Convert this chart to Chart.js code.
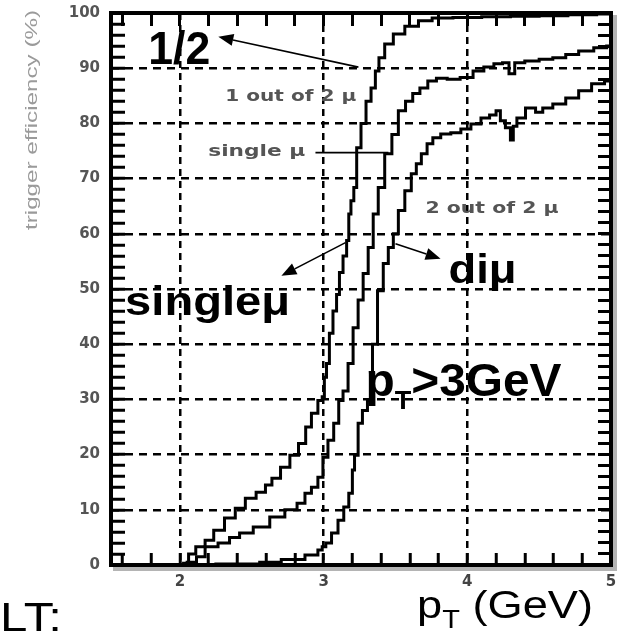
<!DOCTYPE html>
<html>
<head>
<meta charset="utf-8">
<script src="https://cdn.jsdelivr.net/npm/chart.js@4"></script>
<style>
html, body { margin: 0; padding: 0; background: #fff; }
</style>
</head>
<body>
<canvas id="chart" width="620" height="635"></canvas>
<script>
// p_T values (GeV) and trigger efficiency (%)
const oneOfTwoX = [2.0, 2.05, 2.07, 2.15, 2.2, 2.27, 2.35, 2.42, 2.49, 2.57, 2.62, 2.66, 2.74, 2.79, 2.86, 2.89, 2.94, 2.98, 3.0, 3.01, 3.03, 3.05, 3.08, 3.1, 3.12, 3.15, 3.17, 3.18, 3.2, 3.22, 3.24, 3.28, 3.31, 3.35, 3.37, 3.4, 3.45, 3.52, 3.61, 3.71, 3.8, 4.0, 4.2, 4.4, 4.6, 4.8, 5.0];
const oneOfTwoY = [0, 0.3, 2, 3.3, 4.5, 6.3, 8.5, 10.3, 12.1, 13.2, 14.5, 15.7, 17.7, 19.9, 22, 25, 27.5, 29.8, 30.5, 34, 36.5, 42, 46, 49, 53, 56, 58.8, 63.6, 66, 68.4, 75.6, 80, 84, 86.4, 89.5, 91.9, 94.4, 96.2, 97.6, 98.6, 99.1, 99.2, 99.3, 99.4, 99.5, 99.7, 99.8];

const singleX = [2.0, 2.1, 2.13, 2.22, 2.31, 2.38, 2.45, 2.57, 2.68, 2.78, 2.85, 2.89, 2.94, 2.98, 3.01, 3.05, 3.09, 3.12, 3.15, 3.19, 3.22, 3.26, 3.29, 3.33, 3.36, 3.4, 3.45, 3.5, 3.54, 3.6, 3.64, 3.7, 3.75, 3.82, 3.9, 4.0, 4.08, 4.15, 4.22, 4.27, 4.31, 4.35, 4.45, 4.55, 4.64, 4.73, 4.82, 4.94, 5.0];
const singleY = [0, 0.5, 1.5, 3.3, 4, 5, 5.8, 6.9, 8.7, 10, 11.2, 13, 14.1, 15.9, 19.5, 22.6, 25.7, 29.8, 31.5, 36.5, 43, 48, 52.8, 57.5, 63.6, 68.4, 74.5, 78, 82.3, 84, 85.4, 86.4, 87.7, 88.2, 88, 88.3, 89.5, 90.2, 90.8, 91, 89, 91, 91.3, 91.6, 91.9, 92.5, 93.1, 93.7, 94];

const twoOfTwoX = [2.0, 2.5, 2.61, 2.8, 2.94, 2.98, 3.0, 3.03, 3.08, 3.12, 3.16, 3.19, 3.21, 3.22, 3.26, 3.28, 3.33, 3.35, 3.4, 3.43, 3.47, 3.5, 3.54, 3.59, 3.63, 3.66, 3.7, 3.74, 3.78, 3.85, 3.92, 3.99, 4.06, 4.13, 4.18, 4.22, 4.24, 4.29, 4.31, 4.33, 4.36, 4.45, 4.5, 4.55, 4.64, 4.73, 4.82, 4.91, 5.0];
const twoOfTwoY = [0, 0.2, 0.5, 1, 1.8, 2.7, 3.3, 4, 5.8, 8.1, 10.5, 13, 17.2, 19.9, 25.7, 28, 29.8, 40, 49.7, 54.6, 57.5, 60, 64.2, 67.8, 70.9, 72.7, 74.5, 76.3, 77.4, 78.1, 78.3, 79, 79.9, 81, 81.5, 82.3, 80.5, 79.2, 77, 79.5, 81, 82.8, 82, 82.8, 83.5, 84.6, 85.9, 87.2, 87.7];

const xTickLabels = [2, 3, 4, 5];
const yTickLabels = [0, 10, 20, 30, 40, 50, 60, 70, 80, 90, 100];
const xTickMarks = [1.6, 1.8, 2.0, 2.2, 2.4, 2.6, 2.8, 3.0, 3.2, 3.4, 3.6, 3.8, 4.0, 4.2, 4.4, 4.6, 4.8];
const yTickMarks = [2, 4, 6, 8, 10, 12, 14, 16, 18, 20, 22, 24, 26, 28, 30, 32, 34, 36, 38, 40, 42, 44, 46, 48, 50,
    52, 54, 56, 58, 60, 62, 64, 66, 68, 70, 72, 74, 76, 78, 80, 82, 84, 86, 88, 90, 92, 94, 96, 98];

const SANS = '"Liberation Sans", Arial, sans-serif';
const WIDE = '"DejaVu Sans", sans-serif';

// labels inside the frame, placed in axis units
const notes = [
    { parts: [{ t: "1/2", font: "bold 46px " + SANS }], x: 1.779, y: 90.8, w: 62, color: "#000" },
    { parts: [{ t: "1 out of 2 \u03bc", font: "bold 15px " + WIDE }], x: 2.315, y: 84.1, w: 131, color: "#555" },
    { parts: [{ t: "single \u03bc", font: "bold 15px " + WIDE }], x: 2.197, y: 74.1, w: 97, color: "#555" },
    { parts: [{ t: "2 out of 2 \u03bc", font: "bold 15px " + WIDE }], x: 3.709, y: 63.8, w: 133, color: "#555" },
    { parts: [{ t: "single\u03bc", font: "bold 40px " + SANS }], x: 1.618, y: 45.2, w: 165, color: "#000" },
    { parts: [{ t: "di\u03bc", font: "bold 40px " + SANS }], x: 3.869, y: 51.0, w: 68, color: "#000" },
    { parts: [{ t: "p", font: "bold 46px " + SANS }, { t: "T", font: "bold 26px " + SANS, dy: 13 },
              { t: ">3GeV", font: "bold 46px " + SANS }], x: 3.291, y: 30.7, w: 196, color: "#000" }
];

const arrows = [
    { from: [3.242, 90.2], to: [2.267, 95.7], head: true },
    { from: [2.943, 74.7], to: [3.451, 74.7], head: false },
    { from: [3.152, 58.4], to: [2.706, 52.4], head: true },
    { from: [3.5, 58.2], to: [3.814, 55.5], head: true }
];

const xAllTicks = [...new Set([...xTickMarks, ...xTickLabels])].sort((a, b) => a - b);
const yAllTicks = [...new Set([...yTickMarks, ...yTickLabels])].sort((a, b) => a - b);

function drawParts(ctx, parts, x, y, w) {
    let total = 0;
    parts.forEach(p => { ctx.font = p.font; total += ctx.measureText(p.t).width; });
    ctx.save();
    ctx.translate(x, y);
    ctx.scale(w / total, 1);
    let cx = 0;
    parts.forEach(p => {
        ctx.font = p.font;
        ctx.fillText(p.t, cx, p.dy || 0);
        cx += ctx.measureText(p.t).width;
    });
    ctx.restore();
}

function drawArrow(ctx, x1, y1, x2, y2, head) {
    const ang = Math.atan2(y2 - y1, x2 - x1);
    const len = head ? 15 : 0;
    ctx.beginPath();
    ctx.moveTo(x1, y1);
    ctx.lineTo(x2 - len * Math.cos(ang), y2 - len * Math.sin(ang));
    ctx.stroke();
    if (head) {
        ctx.beginPath();
        ctx.moveTo(x2, y2);
        ctx.lineTo(x2 - len * Math.cos(ang) + 6 * Math.sin(ang), y2 - len * Math.sin(ang) - 6 * Math.cos(ang));
        ctx.lineTo(x2 - len * Math.cos(ang) - 6 * Math.sin(ang), y2 - len * Math.sin(ang) + 6 * Math.cos(ang));
        ctx.closePath();
        ctx.fill();
    }
}

const framePlugin = {
    id: "frame",
    afterDraw(chart) {
        const { ctx, chartArea: a, scales: { x, y } } = chart;
        ctx.save();
        ctx.setLineDash([]);

        // grey shadow along right and bottom edges, then the frame
        ctx.fillStyle = "#b4b4b4";
        ctx.fillRect(a.right + 2, a.top + 2, 4, a.bottom - a.top + 4);
        ctx.fillRect(a.left + 2, a.bottom + 2, a.right - a.left + 4, 4);
        ctx.strokeStyle = "#000";
        ctx.lineWidth = 4;
        ctx.strokeRect(a.left, a.top, a.right - a.left, a.bottom - a.top);

        // annotations
        ctx.textBaseline = "alphabetic";
        ctx.textAlign = "left";
        notes.forEach(n => {
            ctx.fillStyle = n.color;
            drawParts(ctx, n.parts, x.getPixelForValue(n.x), y.getPixelForValue(n.y), n.w);
        });
        ctx.lineWidth = 1.6;
        ctx.fillStyle = "#000";
        arrows.forEach(r => {
            drawArrow(ctx, x.getPixelForValue(r.from[0]), y.getPixelForValue(r.from[1]),
                x.getPixelForValue(r.to[0]), y.getPixelForValue(r.to[1]), r.head);
        });

        // axis titles and the cut-off slide text
        ctx.fillStyle = "#9a9a9a";
        ctx.save();
        ctx.translate(37, 120);
        ctx.rotate(-Math.PI / 2);
        ctx.font = "17px " + SANS;
        const t = "trigger efficiency (%)";
        const tw = ctx.measureText(t).width;
        ctx.scale(220 / tw, 1);
        ctx.fillText(t, -tw / 2, 0);
        ctx.restore();

        ctx.fillStyle = "#000";
        drawParts(ctx, [{ t: "p", font: "39px " + SANS }, { t: "T", font: "25px " + SANS, dy: 10 },
                        { t: " (GeV)", font: "39px " + SANS }], 417, 618, 176);
        drawParts(ctx, [{ t: "LT:", font: "40px " + SANS }], 0, 631, 62);
        ctx.restore();
    }
};

function series(xs, ys) {
    return xs.map((v, i) => ({ x: v, y: ys[i] }));
}

const lineStyle = {
    borderColor: "#000",
    borderWidth: 3,
    pointRadius: 0,
    fill: false,
    stepped: "middle"
};

// grid: dashed lines only on labelled values, inward tick marks on every value
function gridFor(labels, tickLength) {
    return {
        color: c => (c.tick && labels.includes(c.tick.value)) ? "#000" : "rgba(0,0,0,0)",
        lineWidth: 2.5,
        drawTicks: true,
        tickLength: tickLength,
        tickColor: "#000",
        tickWidth: 3
    };
}

const hiddenSide = {
    ticks: { display: false },
    border: { display: false }
};

new Chart(document.getElementById("chart"), {
    type: "line",
    data: {
        datasets: [
            { label: "1 out of 2 mu", data: series(oneOfTwoX, oneOfTwoY), ...lineStyle },
            { label: "single mu", data: series(singleX, singleY), ...lineStyle },
            { label: "2 out of 2 mu", data: series(twoOfTwoX, twoOfTwoY), ...lineStyle }
        ]
    },
    options: {
        responsive: false,
        animation: false,
        devicePixelRatio: 1,
        layout: { padding: { top: 13, right: 9, left: 0, bottom: 0 } },
        plugins: { legend: { display: false }, tooltip: { enabled: false } },
        scales: {
            x: {
                type: "linear",
                min: 1.52,
                max: 5,
                afterBuildTicks: s => { s.ticks = xAllTicks.map(v => ({ value: v })); },
                afterFit: s => { s.height = 70; s.paddingLeft = 0; s.paddingRight = 0; },
                grid: gridFor(xTickLabels, -12),
                border: { display: false, dash: [7, 5] },
                ticks: {
                    padding: 20,
                    maxRotation: 0,
                    autoSkip: false,
                    color: "#444",
                    font: { family: "DejaVu Sans", weight: "bold", size: 15 },
                    callback: v => xTickLabels.includes(v) ? String(v) : ""
                }
            },
            y: {
                min: 0,
                max: 100,
                afterBuildTicks: s => { s.ticks = yAllTicks.map(v => ({ value: v })); },
                afterFit: s => { s.width = 111; s.paddingTop = 0; s.paddingBottom = 0; },
                grid: gridFor(yTickLabels, -14),
                border: { display: false, dash: [8, 6] },
                ticks: {
                    padding: 25,
                    autoSkip: false,
                    color: "#555",
                    font: { family: "DejaVu Sans", weight: "bold", size: 15 },
                    callback: v => yTickLabels.includes(v) ? String(v) : ""
                }
            },
            x2: {
                type: "linear",
                axis: "x",
                position: "top",
                min: 1.52,
                max: 5,
                afterBuildTicks: s => { s.ticks = xTickMarks.map(v => ({ value: v })); },
                afterFit: s => { s.height = 0; s.paddingLeft = 0; s.paddingRight = 0; },
                grid: { drawOnChartArea: false, drawTicks: true, tickLength: -13, tickColor: "#000", tickWidth: 3 },
                ...hiddenSide
            },
            y2: {
                type: "linear",
                axis: "y",
                position: "right",
                min: 0,
                max: 100,
                afterBuildTicks: s => { s.ticks = yTickMarks.map(v => ({ value: v })); },
                afterFit: s => { s.width = 0; s.paddingTop = 0; s.paddingBottom = 0; },
                grid: { drawOnChartArea: false, drawTicks: true, tickLength: -13, tickColor: "#000", tickWidth: 3 },
                ...hiddenSide
            }
        }
    },
    plugins: [framePlugin]
});
</script>
</body>
</html>
